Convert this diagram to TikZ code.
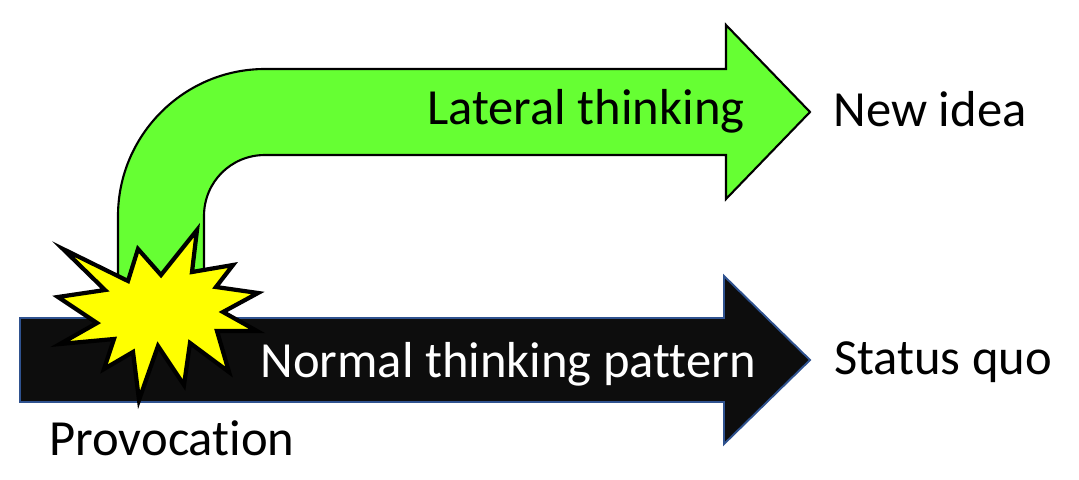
\documentclass[tikz,border=0pt]{standalone}
\usepackage{fontspec}
\setmainfont[Ligatures=NoCommon]{Carlito}
\usepackage{xcolor}
\usepackage{tikz}
\usetikzlibrary{calc}

\definecolor{lateralgreen}{HTML}{66FF33}
\definecolor{normalblack}{HTML}{0D0D0D}
\definecolor{normalblue}{HTML}{2F528F}
\definecolor{staryellow}{HTML}{FFFF00}

\begin{document}
\begin{tikzpicture}[x=0.02cm, y=-0.02cm,
		label/.style={font=\fontsize{28.8}{28.8}\selectfont, inner sep=0pt, anchor=center}]
			\useasboundingbox (0,0) rectangle (1079,480);

			\begin{scope}
				\draw[fill=lateralgreen, line width=1.2pt, miter limit=10]
					(118,285) -- (118,216) .. controls (118,135) and (184,69) .. (265,69)
					-- (726,69) -- (726,25) -- (810,112) -- (726,199) -- (726,155)
					-- (265,155) .. controls (231,155) and (204,182) .. (204,216)
					-- (204,285) -- cycle;
			\end{scope}

			\begin{scope}
				\draw[fill=normalblack, draw=normalblue, line width=1.1pt, miter limit=10]
					(20,318) -- (724,318) -- (724,276) -- (810,360) -- (724,444)
					-- (724,402) -- (20,402) -- cycle;
			\end{scope}

			\begin{scope}
				\draw[fill=staryellow, line width=2.4pt, miter limit=10]
					(63,249) -- (128,281) -- (138,249) -- (161,275) -- (197,230)
					-- (192,272) -- (233,265) -- (216,287) -- (258,293) -- (223,312)
					-- (257,331) -- (217,331) -- (229,372) -- (190,343) -- (184,385)
					-- (158,346) -- (139,400) -- (133,352) -- (104,369) -- (114,339)
					-- (60,344) -- (97,323) -- (58,297) -- (105,290) -- cycle;
			\end{scope}

			\node[label] (lateral) at (586,111) {Lateral thinking};
			\node[label] (newidea) at (930,109) {New idea};
			\node[label, text=white] (normal) at (508,364) {Normal thinking pattern};
			\node[label] (statusquo) at (943,362) {Status quo};
			\node[label] (provocation) at (172,438) {Provocation};
		\end{tikzpicture}
\end{document}
